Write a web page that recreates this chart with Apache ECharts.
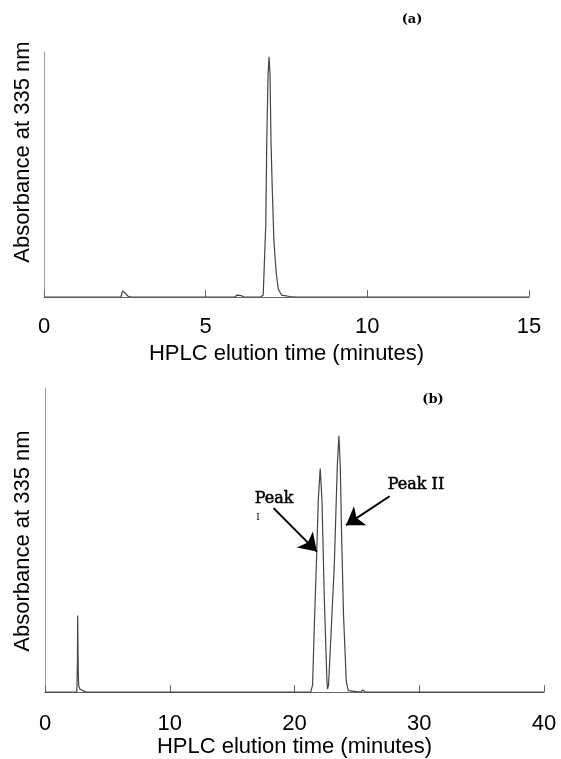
<!DOCTYPE html>
<html>
<head>
<meta charset="utf-8">
<title>HPLC</title>
<script src="https://cdn.jsdelivr.net/npm/echarts@6.0.0/dist/echarts.min.js"></script>
<style>
  html, body { margin: 0; padding: 0; background: #fff; }
  #main { width: 561px; height: 759px; }
</style>
</head>
<body>
<div id="main"></div>
<script>
// chromatogram (a): elution time (min) / absorbance (% of full scale)
var timeA = [0, 2.38, 2.43, 2.47, 2.52, 2.6, 2.7, 5.9, 5.97, 6.03, 6.1, 6.18, 6.7, 6.78, 6.86, 6.89, 6.93, 6.96, 6.99, 7.02, 7.06, 7.11, 7.18, 7.25, 7.35, 7.6, 7.8, 15];
var absA  = [0, 0, 2.5, 3.3, 1.5, 0.3, 0, 0, 0.8, 1.2, 0.6, 0, 0, 0.8, 30, 64, 91, 98, 91, 64, 44, 23, 10, 3, 0.8, 0.2, 0, 0];

// chromatogram (b)
var timeB = [0, 2.55, 2.6, 2.62, 2.66, 2.7, 2.8, 3.0, 3.3, 21.3, 21.45, 21.59, 21.75, 21.91, 22.06, 22.2, 22.39, 22.6, 22.65, 22.73, 22.95, 23.19, 23.35, 23.43, 23.56, 23.67, 23.77, 23.93, 24.15, 24.31, 25.3, 25.47, 25.65, 40];
var absB  = [0, 0, 10, 25.2, 8, 2, 1, 0.5, 0, 0, 2.4, 22, 41.6, 63.4, 73.5, 63.4, 30.7, 3.6, 1, 2.4, 21, 41.6, 63.4, 74.3, 84.3, 74.3, 52.6, 25.3, 3.6, 0.5, 0, 0.7, 0, 0];

// axis ranges / ticks
var ticksA = [0, 5, 10, 15];
var ticksB = [0, 10, 20, 30, 40];

// annotation arrows (time, absorbance) : from -> to
var arrowPeakI  = [[18.32, 60.5], [21.79, 46.2]];
var arrowPeakII = [[27.62, 64.4], [24.13, 54.9]];

var xTitle = 'HPLC elution time (minutes)';
var yTitle = 'Absorbance at 335 nm';

function zip(xs, ys) {
    var out = [];
    for (var i = 0; i < xs.length; i++) out.push([xs[i], ys[i]]);
    return out;
}

var sansFont = '"Liberation Sans", Arial, sans-serif';
var serifFont = '"DejaVu Serif", "Liberation Serif", serif';

function xAxisOf(idx, ticks, margin, gap) {
    return {
        type: 'value',
        gridIndex: idx,
        min: ticks[0],
        max: ticks[ticks.length - 1],
        interval: ticks[1] - ticks[0],
        name: xTitle,
        nameLocation: 'middle',
        nameGap: gap,
        nameTextStyle: { fontFamily: sansFont, fontSize: 22, color: '#000' },
        axisLine: { lineStyle: { color: '#666', width: 1 } },
        axisTick: { inside: true, length: 7, lineStyle: { color: '#666' } },
        axisLabel: { margin: margin, fontFamily: sansFont, fontSize: 22, color: '#000' },
        splitLine: { show: false }
    };
}

function yAxisOf(idx) {
    return {
        type: 'value',
        gridIndex: idx,
        min: 0,
        max: 100,
        axisLine: { show: true, lineStyle: { color: '#999', width: 1 } },
        axisTick: { show: false },
        axisLabel: { show: false },
        splitLine: { show: false }
    };
}

var chart = echarts.init(document.getElementById('main'));

var option = {
    backgroundColor: '#fff',
    animation: false,
    grid: [
        { left: 44, right: 32, top: 52, height: 245 },
        { left: 45, right: 17, top: 388, height: 306 }
    ],
    xAxis: [xAxisOf(0, ticksA, 19, 46), xAxisOf(1, ticksB, 21, 42)],
    yAxis: [yAxisOf(0), yAxisOf(1)],
    series: [
        {
            type: 'line',
            xAxisIndex: 0, yAxisIndex: 0,
            data: zip(timeA, absA),
            showSymbol: false,
            lineStyle: { color: '#444', width: 1.2 }
        },
        {
            type: 'line',
            xAxisIndex: 1, yAxisIndex: 1,
            data: zip(timeB, absB),
            showSymbol: false,
            lineStyle: { color: '#444', width: 1.2 },
            markLine: {
                silent: true,
                symbol: ['none', 'arrow'],
                symbolSize: 17,
                label: { show: false },
                lineStyle: { color: '#000', width: 2, type: 'solid' },
                data: [
                    [{ coord: arrowPeakI[0] }, { coord: arrowPeakI[1] }],
                    [{ coord: arrowPeakII[0] }, { coord: arrowPeakII[1] }]
                ]
            }
        }
    ],
    graphic: [
        // y titles
        { type: 'text', x: 23, y: 152, rotation: Math.PI / 2,
          style: { text: yTitle, font: '22px ' + sansFont, fill: '#000', align: 'center', verticalAlign: 'middle' } },
        { type: 'text', x: 23, y: 541, rotation: Math.PI / 2,
          style: { text: yTitle, font: '22px ' + sansFont, fill: '#000', align: 'center', verticalAlign: 'middle' } },
        // panel letters
        { type: 'text', x: 412, y: 20,
          style: { text: '(a)', font: 'bold 13px ' + serifFont, fill: '#000', align: 'center', verticalAlign: 'middle' } },
        { type: 'text', x: 433, y: 400,
          style: { text: '(b)', font: 'bold 13px ' + serifFont, fill: '#000', align: 'center', verticalAlign: 'middle' } },
        // peak labels
        { type: 'text', x: 416, y: 485,
          style: { text: 'Peak II', font: '16px ' + serifFont, fill: '#000', stroke: '#000', lineWidth: 0.5, align: 'center', verticalAlign: 'middle' } },
        { type: 'text', x: 274, y: 499,
          style: { text: 'Peak', font: '16px ' + serifFont, fill: '#000', stroke: '#000', lineWidth: 0.5, align: 'center', verticalAlign: 'middle' } },
        { type: 'text', x: 258, y: 518,
          style: { text: 'I', font: '9px ' + serifFont, fill: '#000', align: 'center', verticalAlign: 'middle' } }
    ]
};

chart.setOption(option);
</script>
</body>
</html>
